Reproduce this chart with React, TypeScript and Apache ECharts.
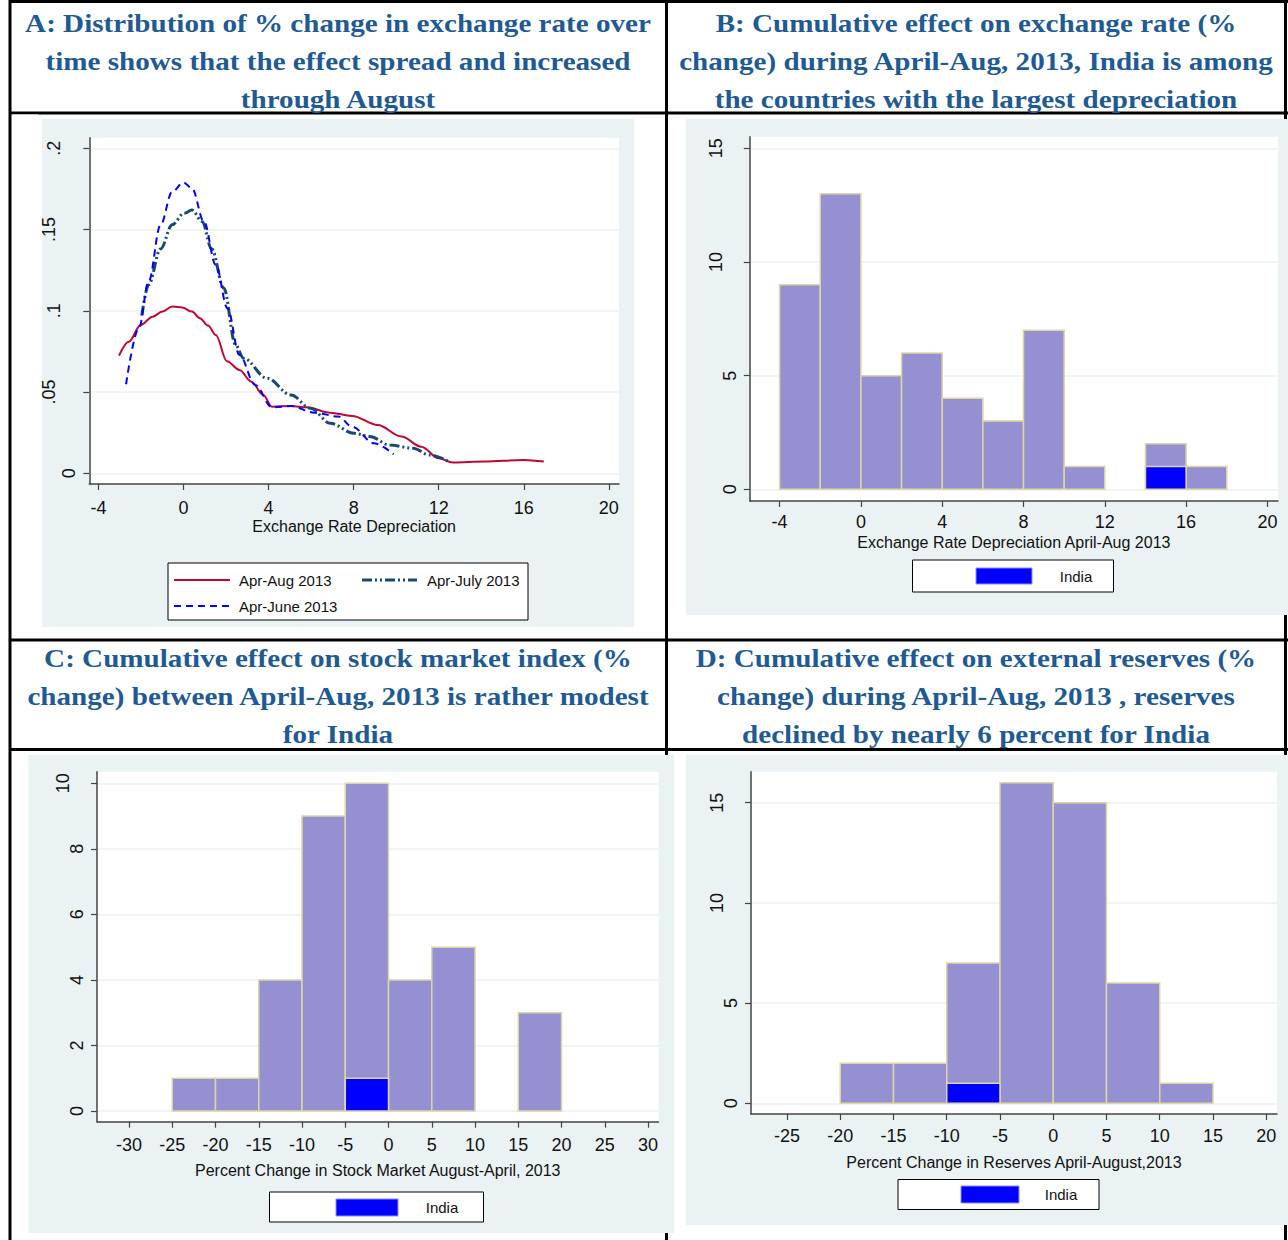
import React, { useEffect, useRef } from 'react';
import * as echarts from 'echarts';

// ---------- Panel A: kernel densities ----------
const augX = [-3.03, -2.57, -2.01, -1.45, -0.99, -0.53, -0.06, 0.4, 0.77, 1.15, 1.52, 2.04, 2.63, 3.19, 3.75, 4.16, 5.05, 5.79, 6.9, 7.93, 9.13, 10.25, 11.18, 12.0, 12.66, 14.15, 16.0, 16.94];
const augY = [0.0724, 0.081, 0.0913, 0.0964, 0.0995, 0.1026, 0.102, 0.0995, 0.0954, 0.0909, 0.0851, 0.069, 0.0636, 0.0564, 0.0482, 0.041, 0.0414, 0.0406, 0.0373, 0.0353, 0.0297, 0.0226, 0.0164, 0.0092, 0.0066, 0.0072, 0.0082, 0.0072];
const julyX = [-1.96, -1.64, -1.08, -0.53, 0.03, 0.4, 0.87, 1.33, 1.89, 2.45, 2.82, 3.93, 5.05, 5.98, 6.9, 8.02, 8.76, 9.69, 10.8, 11.55, 12.48];
const julyY = [0.097, 0.116, 0.138, 0.153, 0.16, 0.162, 0.155, 0.138, 0.114, 0.079, 0.0708, 0.0585, 0.0482, 0.04, 0.0308, 0.0246, 0.0226, 0.0174, 0.0154, 0.0113, 0.0072];
const juneX = [-2.7, -2.1, -1.64, -1.08, -0.53, 0.0, 0.4, 0.96, 1.52, 2.07, 2.63, 3.37, 4.16, 5.05, 6.16, 7.28, 7.93, 8.95, 9.88];
const juneY = [0.0548, 0.0892, 0.118, 0.1528, 0.1733, 0.1789, 0.1754, 0.1549, 0.1282, 0.1015, 0.0728, 0.0544, 0.0406, 0.0414, 0.0373, 0.0349, 0.0287, 0.0185, 0.0117];
const A_X_TICKS = [-4, 0, 4, 8, 12, 16, 20];
const A_Y_TICKS = [0, 0.05, 0.1, 0.15, 0.2];
const A_Y_LABELS = ['0', '.05', '.1', '.15', '.2'];
const A_SERIES = ['Apr-Aug 2013', 'Apr-July 2013', 'Apr-June 2013'];

// ---------- Panel B: exchange rate histogram ----------
const B_BIN_START = [-4, -2, 0, 2, 4, 6, 8, 10, 14, 16];
const B_COUNTS = [9, 13, 5, 6, 4, 3, 7, 1, 2, 1];
const B_BIN_WIDTH = 2;
const B_INDIA_BIN = 14;
const B_INDIA_COUNT = 1;
const B_X_TICKS = [-4, 0, 4, 8, 12, 16, 20];
const B_Y_TICKS = [0, 5, 10, 15];

// ---------- Panel C: stock market histogram ----------
const C_BIN_START = [-25, -20, -15, -10, -5, 0, 5, 15];
const C_COUNTS = [1, 1, 4, 9, 10, 4, 5, 3];
const C_BIN_WIDTH = 5;
const C_INDIA_BIN = -5;
const C_INDIA_COUNT = 1;
const C_X_TICKS = [-30, -25, -20, -15, -10, -5, 0, 5, 10, 15, 20, 25, 30];
const C_Y_TICKS = [0, 2, 4, 6, 8, 10];

// ---------- Panel D: reserves histogram ----------
const D_BIN_START = [-20, -15, -10, -5, 0, 5, 10];
const D_COUNTS = [2, 2, 7, 16, 15, 6, 1];
const D_BIN_WIDTH = 5;
const D_INDIA_BIN = -10;
const D_INDIA_COUNT = 1;
const D_X_TICKS = [-25, -20, -15, -10, -5, 0, 5, 10, 15, 20];
const D_Y_TICKS = [0, 5, 10, 15];

const TITLE_A = ['A: Distribution of % change in exchange rate over', 'time shows that the effect spread and increased', 'through August'];
const TITLE_B = ['B: Cumulative effect on exchange rate (%', 'change) during April-Aug, 2013, India is among', 'the countries with the largest depreciation'];
const TITLE_C = ['C: Cumulative effect on stock market index (%', 'change) between April-Aug, 2013 is rather modest', 'for India'];
const TITLE_D = ['D: Cumulative effect on external reserves (%', 'change) during April-Aug, 2013 , reserves', 'declined by nearly 6 percent for India'];
const X_NAMES = ['Exchange Rate Depreciation', 'Exchange Rate Depreciation April-Aug 2013', 'Percent Change in Stock Market August-April, 2013', 'Percent Change in Reserves April-August,2013'];
const INDIA = 'India';

const SANS = 'Liberation Sans';
const SERIF = 'Liberation Serif';
const TITLE_COLOR = '#1f5a93';
const BG = '#eaf2f3';
const BAR = '#9590d1';
const BAR_EDGE = '#ddd5a6';
const INDIA_BLUE = '#0000ff';
const AXIS = '#444';
const TXT = '#111';

function xAxisCfg(gridIndex: number, min: number, max: number, ticks: number[], margin: number, name: string, nameGap: number) {
  return {
    gridIndex, type: 'value', min, max,
    axisLine: { show: true, onZero: false, lineStyle: { color: AXIS, width: 1.5 } },
    axisTick: { show: true, length: 6, lineStyle: { color: AXIS, width: 1.2 }, customValues: ticks },
    axisLabel: { customValues: ticks, fontSize: 18, fontFamily: SANS, color: TXT, margin },
    splitLine: { show: false },
    name, nameLocation: 'middle', nameGap, nameMoveOverlap: false,
    nameTextStyle: { fontSize: 16, fontFamily: SANS, color: TXT },
  };
}

function labelKey(s: string, panelA: boolean) {
  if (s.length === 1) return 'r0';
  if (s.length === 2) return s[0] === '.' ? 'rDot' : 'r14';
  return panelA ? 'rA3' : 'r22';
}

function yAxisCfg(gridIndex: number, min: number, max: number, ticks: number[], labels: string[] | null, panelA: boolean) {
  const base = { fontSize: 18, fontFamily: SANS, color: TXT };
  return {
    gridIndex, type: 'value', min, max,
    axisLine: { show: true, onZero: false, lineStyle: { color: AXIS, width: 1.5 } },
    axisTick: { show: true, length: 6, lineStyle: { color: AXIS, width: 1.2 }, customValues: ticks },
    axisLabel: {
      customValues: ticks, rotate: 90, margin: 11, ...base,
      formatter: (v: number) => {
        const i = ticks.findIndex((t) => Math.abs(t - v) < 1e-9);
        const s = labels && i >= 0 ? labels[i] : String(v);
        return `{${labelKey(s, panelA)}|${s}}`;
      },
      rich: {
        r0: { ...base, lineHeight: 18 },
        rDot: { ...base, lineHeight: 48 },
        r14: { ...base, lineHeight: 46 },
        r22: { ...base, lineHeight: 62 },
        rA3: { ...base, lineHeight: 58 },
      },
    },
    splitLine: { show: true, lineStyle: { color: BG, width: 1.5 } },
  };
}

function histRender(fill: string) {
  return (params: any, api: any) => {
    const x0 = api.value(0);
    const x1 = api.value(1);
    const c = api.value(2);
    const p0 = api.coord([x0, 0]);
    const p1 = api.coord([x1, c]);
    return {
      type: 'rect',
      shape: { x: p0[0], y: p1[1], width: p1[0] - p0[0], height: p0[1] - p1[1] },
      style: { fill, stroke: BAR_EDGE, lineWidth: 1.5 },
    };
  };
}

function histSeries(idx: number, starts: number[], counts: number[], width: number, fill: string) {
  return {
    type: 'custom', xAxisIndex: idx, yAxisIndex: idx,
    renderItem: histRender(fill),
    encode: { x: [0, 1], y: 2 },
    data: starts.map((s, i) => [s, s + width, counts[i]]),
    z: 3,
  };
}

function titleTexts(lines: string[], cx: number, ys: number[]) {
  return lines.map((t, i) => ({
    type: 'text', x: cx, y: ys[i], z: 10, scaleX: 1.12,
    style: { text: t, fill: TITLE_COLOR, fontFamily: SERIF, fontWeight: 'bold', fontSize: 26, align: 'center', verticalAlign: 'middle' },
  }));
}

function rect(x: number, y: number, w: number, h: number, fill: string, z: number, stroke?: string) {
  return {
    type: 'rect', z, shape: { x, y, width: w, height: h },
    style: stroke ? { fill, stroke, lineWidth: 1 } : { fill },
  };
}

function legText(t: string, x: number, y: number, align = 'left') {
  return { type: 'text', x, y, z: 10, style: { text: t, fill: TXT, fontFamily: SANS, fontSize: 15, align, verticalAlign: 'middle' } };
}

function indiaLegend(x: number, y: number, w: number, h: number, sx0: number, sx1: number, sy0: number, sy1: number, tx: number) {
  return [
    rect(x, y, w, h, '#fff', 8, '#000'),
    { type: 'rect', z: 9, shape: { x: sx0, y: sy0, width: sx1 - sx0, height: sy1 - sy0 }, style: { fill: INDIA_BLUE, stroke: '#8c8cff', lineWidth: 1 } },
    legText(INDIA, tx, (y + y + h) / 2, 'center'),
  ];
}

export default function App() {
  const ref = useRef<HTMLDivElement>(null);
  useEffect(() => {
    if (!ref.current) return;
    const chart = echarts.init(ref.current, null, { renderer: 'svg' });

    const lineA = (xs: number[], ys: number[], name: string, lineStyle: any) => ({
      type: 'line', name, xAxisIndex: 0, yAxisIndex: 0,
      data: xs.map((x, i) => [x, ys[i]]),
      showSymbol: false, symbol: 'none', smooth: 0.35, smoothMonotone: 'x',
      lineStyle, z: 3,
    });

    const graphics: any[] = [
      // table rules
      rect(10, 0, 1278, 3, '#000', -3),
      rect(10, 111.5, 1278, 3, '#000', -3),
      rect(10, 638.5, 1278, 3, '#000', -3),
      rect(10, 748, 1278, 3, '#000', -3),
      rect(665, 0, 3, 1240, '#000', -3),
      rect(1284, 0, 3, 1240, '#000', -3),
      // graph regions
      rect(42, 119, 592, 508, BG, -2),
      rect(686, 119, 602, 496, BG, -2),
      rect(28.5, 755, 645.5, 478, BG, -2),
      rect(686, 755, 602, 470, BG, -2),
      // clip of panel A labels at image edge
      rect(11.5, 114.5, 26.5, 523, '#fff', 5),
      rect(8.5, 0, 3, 1240, '#000', 6),
      ...titleTexts(TITLE_A, 338, [23, 61, 99]),
      ...titleTexts(TITLE_B, 976, [23, 61, 99]),
      ...titleTexts(TITLE_C, 338, [658, 696, 734]),
      ...titleTexts(TITLE_D, 976, [658, 696, 734]),
      // legend A
      rect(168, 563, 360, 57, '#fff', 8, '#000'),
      { type: 'line', z: 9, shape: { x1: 174, y1: 580, x2: 230, y2: 580 }, style: { stroke: '#c10534', lineWidth: 2 } },
      legText(A_SERIES[0], 239, 580),
      { type: 'line', z: 9, shape: { x1: 362, y1: 580, x2: 417, y2: 580 }, style: { stroke: '#1a476f', lineWidth: 3, lineDash: [10, 3, 2, 3, 2, 3] } },
      legText(A_SERIES[1], 427, 580),
      { type: 'line', z: 9, shape: { x1: 174, y1: 606, x2: 230, y2: 606 }, style: { stroke: INDIA_BLUE, lineWidth: 2, lineDash: [7, 5] } },
      legText(A_SERIES[2], 239, 606),
      ...indiaLegend(912.5, 560, 201, 32, 976, 1032, 568, 584, 1076),
      ...indiaLegend(269.5, 1192, 214, 30, 336, 398, 1199, 1216, 442),
      ...indiaLegend(898, 1179.5, 201, 30, 961, 1019, 1186, 1203, 1061),
    ];

    const gridBase = { show: true, backgroundColor: '#fff', borderWidth: 0, containLabel: false, outerBoundsMode: 'none' };

    chart.setOption({
      animation: false,
      backgroundColor: '#fff',
      grid: [
        { ...gridBase, left: 89.3, top: 137.7, width: 529.7, height: 346.3 },
        { ...gridBase, left: 749.8, top: 136.7, width: 528.2, height: 364.3 },
        { ...gridBase, left: 97, top: 771.7, width: 561.5, height: 350 },
        { ...gridBase, left: 751, top: 771.7, width: 526, height: 342.3 },
      ],
      xAxis: [
        xAxisCfg(0, -4.428, 20.476, A_X_TICKS, 15, X_NAMES[0], 34),
        xAxisCfg(1, -5.466, 20.52, B_X_TICKS, 12, X_NAMES[1], 33),
        xAxisCfg(2, -33.7, 31.21, C_X_TICKS, 14, X_NAMES[2], 41),
        xAxisCfg(3, -28.38, 21.01, D_X_TICKS, 13, X_NAMES[3], 40),
      ],
      yAxis: [
        yAxisCfg(0, -0.00658, 0.2065, A_Y_TICKS, A_Y_LABELS, true),
        yAxisCfg(1, -0.515, 15.51, B_Y_TICKS, null, false),
        yAxisCfg(2, -0.327, 10.354, C_Y_TICKS, null, false),
        yAxisCfg(3, -0.534, 16.547, D_Y_TICKS, null, false),
      ],
      series: [
        lineA(augX, augY, A_SERIES[0], { color: '#c10534', width: 2 }),
        lineA(julyX, julyY, A_SERIES[1], { color: '#1a476f', width: 3, type: [10, 3, 2, 3, 2, 3] }),
        lineA(juneX, juneY, A_SERIES[2], { color: INDIA_BLUE, width: 2, type: [7, 5] }),
        histSeries(1, B_BIN_START, B_COUNTS, B_BIN_WIDTH, BAR),
        histSeries(1, [B_INDIA_BIN], [B_INDIA_COUNT], B_BIN_WIDTH, INDIA_BLUE),
        histSeries(2, C_BIN_START, C_COUNTS, C_BIN_WIDTH, BAR),
        histSeries(2, [C_INDIA_BIN], [C_INDIA_COUNT], C_BIN_WIDTH, INDIA_BLUE),
        histSeries(3, D_BIN_START, D_COUNTS, D_BIN_WIDTH, BAR),
        histSeries(3, [D_INDIA_BIN], [D_INDIA_COUNT], D_BIN_WIDTH, INDIA_BLUE),
      ],
      graphic: { elements: graphics },
    });
    return () => chart.dispose();
  }, []);
  return <div ref={ref} style={{ position: 'absolute', left: 0, top: 0, width: 1288, height: 1240 }} />;
}
